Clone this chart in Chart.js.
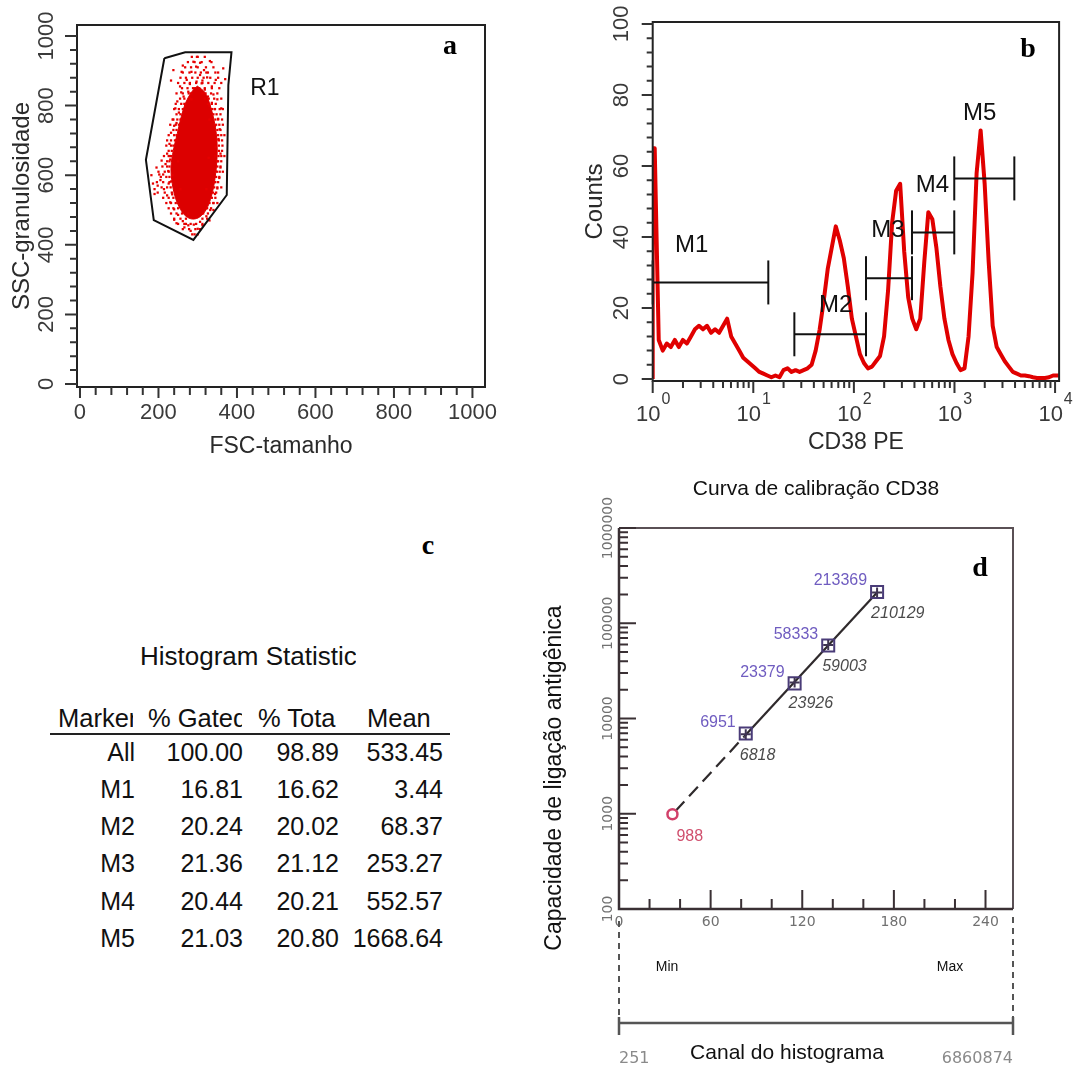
<!DOCTYPE html>
<html>
<head>
<meta charset="UTF-8">
<script src="https://cdn.jsdelivr.net/npm/chart.js@4.4.1/dist/chart.umd.min.js"></script>
<style>
  body { margin: 0; background: #fff; }
  #page { position: relative; width: 1075px; height: 1073px; overflow: hidden; background: #fff; }
  canvas { position: absolute; }
  .tag { position: absolute; width: 40px; text-align: center; font: bold 28px "Liberation Serif", serif; line-height: 32px; color: #000; }
  .cell { position: absolute; white-space: nowrap; overflow: hidden; font: 25px "Liberation Sans", Arial, sans-serif; line-height: 30px; height: 30px; color: #111; }
</style>
</head>
<body>
<div id="page">
  <canvas id="dotplot" width="540" height="470" style="left:0;top:0"></canvas>
  <canvas id="histo" width="535" height="470" style="left:540px;top:0"></canvas>
  <canvas id="calib" width="535" height="603" style="left:540px;top:470px"></canvas>
  <div id="stats"></div>
  <div class="tag" style="left:430px;top:29px">a</div>
  <div class="tag" style="left:1008px;top:32px">b</div>
  <div class="tag" style="left:408px;top:529px">c</div>
  <div class="tag" style="left:960px;top:551px">d</div>
</div>

<script>
// ---------- a: FSC x SSC dot plot ----------
const gateR1 = [[215,936],[268,953],[386,953],[378,859],[374,543],[289,414],[188,471],[168,644],[215,936]];
const denseCore = [[299,856],[318,838],[332,800],[343,750],[349,700],[349,645],[344,590],[335,540],[322,502],[305,480],[287,474],[270,482],[256,502],[244,532],[235,576],[232,624],[238,672],[248,720],[258,768],[270,810],[285,840],[299,856]];
const sparseEvents = [
  [289,926],[306,923],[296,912],[331,928],[316,902],[284,897],[259,897],[238,902],[306,888],[324,881],
  [346,874],[272,874],[297,869],[310,864],[365,907],[370,876],[336,855],[255,855],[293,850],[318,846],
  [276,840],[264,826],[340,832],[350,818],[248,812],[326,826],[284,818],[360,792],[243,792],[352,762],
  [238,760],[356,732],[232,722],[348,702],[228,690],[358,662],[222,662],[350,640],[218,632],[345,612],
  [212,602],[205,586],[198,570],[190,560],[182,600],[195,622],[208,642],[225,612],[230,645],[355,592],
  [350,562],[344,546],[340,520],[332,500],[322,482],[306,466],[290,458],[276,456],[262,468],[250,486],
  [240,502],[230,522],[222,542],[214,560],[246,462],[282,440],[300,446],[266,450],[312,456],[292,430],
  [232,582],[202,602],[186,576],[190,546],[240,472],[330,470],[342,580],[346,682],[353,704],[240,742],
  [246,700],[358,622],[236,600],[226,576],[344,790],[336,808],[252,780],[258,838],[330,760],[246,750],
  [344,742],[345,655],[229,655],[222,700],[235,545],[340,500],[270,460],[312,872],[280,862],[322,895],
  [298,940],[262,915],[352,895],[232,872],[268,800],[330,800],[250,640],[328,650],[256,560],[322,560]
];
const fringeEvents = [
  [285,940],[300,940],[318,940],
  [275,925],[292,925],[310,925],[335,925],
  [268,910],[283,910],[300,910],[321,910],[340,910],
  [262,895],[279,895],[294,895],[308,895],[326,895],[345,895],
  [256,880],[270,880],[286,880],[300,880],[315,880],[332,880],[352,880],
  [250,865],[266,865],[280,865],[296,865],[312,865],[327,865],[343,865],[360,865],
  [260,850],[274,850],[288,850],[304,850],[318,850],[336,850],[355,850],
  [246,835],[262,835],[277,835],[283,835],[312,835],[320,835],[334,835],[350,835],
  [255,820],[266,820],[280,820],[318,820],[328,820],[342,820],[360,820],
  [244,805],[258,805],[266,805],[326,805],[336,805],[346,805],
  [240,790],[252,790],[262,790],[336,790],[343,790],[356,790],[364,790],
  [246,775],[256,775],[340,775],[348,775],[358,775],
  [236,760],[248,760],[256,760],[345,760],[352,760],[362,760],
  [230,745],[244,745],[252,745],[347,745],[355,745],[364,745],
  [238,730],[246,730],[350,730],[358,730],
  [226,715],[240,715],[246,715],[352,715],[360,715],[368,715],
  [232,700],[242,700],[354,700],[362,700],
  [220,685],[232,685],[238,685],[354,685],[363,685],
  [226,670],[234,670],[354,670],[362,670],
  [214,655],[226,655],[232,655],[353,655],[360,655],[368,655],
  [222,640],[228,640],[352,640],[360,640],
  [210,625],[222,625],[228,625],[350,625],[358,625],
  [200,610],[216,610],[226,610],[349,610],[356,610],[364,610],
  [206,595],[220,595],[228,595],[347,595],[355,595],
  [196,580],[212,580],[228,580],[345,580],[352,580],
  [208,565],[222,565],[231,565],[342,565],[350,565],[360,565],
  [198,550],[216,550],[234,550],[339,550],[347,550],
  [212,535],[226,535],[238,535],[336,535],[345,535],
  [220,520],[232,520],[244,520],[330,520],[340,520],[350,520],
  [226,505],[238,505],[250,505],[324,505],[334,505],
  [232,490],[246,490],[260,490],[276,490],[314,490],[326,490],
  [240,475],[256,475],[270,475],[312,475],[324,475],
  [250,460],[266,460],[282,460],[296,460],[312,460],
  [262,445],[278,445],[294,445],[306,445],
  [286,430],[300,430]
];
const fscMajor = [0, 200, 400, 600, 800, 1000];
const sscMajor = [0, 200, 400, 600, 800, 1000];
const r1LabelAt = [471, 848];

// ---------- b: CD38 PE histogram (bins of 0.04 decade from 10^0) ----------
const binDecades = 0.04;
const histCounts = [
  65, 11, 8, 10, 9, 11, 9, 11, 10, 12,
  14, 15, 14, 15, 13, 14, 13, 15, 17, 12,
  10, 8, 6, 5, 4, 3, 2, 1.5, 1, 0.5,
  1, 0.5, 2.5, 3, 2, 2.5, 2, 2.5, 3, 4,
  8, 14, 22, 31, 37, 43, 39, 34, 26, 17,
  12, 7, 4.5, 3, 3.5, 5, 6.5, 12, 25, 44,
  53, 55, 36, 23, 17, 14, 17, 33, 47, 45,
  37, 26, 17, 11, 7, 4.5, 2.5, 3, 12, 30,
  58, 70, 55, 33, 15, 9, 7, 5, 3.5, 2,
  1.5, 1, 1, 0.8, 0.5, 0.3, 0.3, 0.3, 0.5, 1
];
const markerNames = ['M1', 'M2', 'M3', 'M4', 'M5'];
const markerFrom  = [1, 25.6, 132, 378, 995];
const markerTo    = [14.1, 132, 378, 995, 3935];
const markerLevel = [27.2, 12.6, 28.4, 41.3, 56.5];
const markerLabelAt = [[2.44, 37.7], [66, 20.8], [218, 41.9], [603, 54.6], [1778, 74.9]];
const countMajor = [0, 20, 40, 60, 80, 100];
const peDecades = [0, 1, 2, 3, 4];

// ---------- c: histogram statistics ----------
const statTitle = 'Histogram Statistics';
const statHeaders = ['Marker', '% Gated', '% Total', 'Mean'];
const statMarkers = ['All', 'M1', 'M2', 'M3', 'M4', 'M5'];
const statGated = ['100.00', '16.81', '20.24', '21.36', '20.44', '21.03'];
const statTotal = ['98.89', '16.62', '20.02', '21.12', '20.21', '20.80'];
const statMean = ['533.45', '3.44', '68.37', '253.27', '552.57', '1668.64'];

// ---------- d: calibration curve ----------
const beadChannel = [83, 115, 137, 169];
const beadNominal = [6951, 23379, 58333, 213369];
const beadMeasured = [6818, 23926, 59003, 210129];
const blankChannel = [35];
const blankValue = [988];
const fitChannel = [37, 82, 169];
const fitValue = [1070, 6480, 210000];
const channelMajor = [0, 60, 120, 180, 240];
const mesfDecades = [100, 1000, 10000, 100000, 1000000];
const rangeMin = '251';
const rangeMax = '6860874';

Chart.defaults.font.family = '"Liberation Sans", Arial, sans-serif';
Chart.defaults.animation = false;

const pts = arr => arr.map(p => ({x: p[0], y: p[1]}));

function stepTicks(from, to, step) {
  const t = [];
  for (let v = from; v <= to; v += step) t.push({value: v});
  return t;
}
function logTicks(d0, d1) {
  const t = [];
  for (let d = d0; d < d1; d++) for (let k = 1; k <= 9; k++) t.push({value: k * Math.pow(10, d)});
  t.push({value: Math.pow(10, d1)});
  return t;
}
function isMajor(list, v) { return list.some(m => Math.abs(m - v) < 1e-9 * Math.max(1, m)); }

function drawTicks(chart, id, majors, lenMajor, lenMinor, inward, color, width) {
  const sc = chart.scales[id], a = chart.chartArea, ctx = chart.ctx;
  ctx.save();
  ctx.strokeStyle = color; ctx.lineWidth = width;
  ctx.beginPath();
  sc.ticks.forEach(t => {
    const len = isMajor(majors, t.value) ? lenMajor : lenMinor;
    const p = sc.getPixelForValue(t.value);
    if (sc.isHorizontal()) {
      ctx.moveTo(p, a.bottom); ctx.lineTo(p, inward ? a.bottom - len : a.bottom + len);
    } else {
      ctx.moveTo(a.left, p); ctx.lineTo(inward ? a.left + len : a.left - len, p);
    }
  });
  ctx.stroke();
  ctx.restore();
}
function drawRotLabels(chart, id, x, values, font, color) {
  const sc = chart.scales[id], ctx = chart.ctx;
  ctx.save();
  ctx.font = font; ctx.fillStyle = color; ctx.textAlign = 'center'; ctx.textBaseline = 'middle';
  values.forEach(v => {
    ctx.save();
    ctx.translate(x, sc.getPixelForValue(v));
    ctx.rotate(-Math.PI / 2);
    ctx.fillText(String(v), 0, 0);
    ctx.restore();
  });
  ctx.restore();
}
function drawFrame(chart, color, width) {
  const a = chart.chartArea, ctx = chart.ctx;
  ctx.save();
  ctx.strokeStyle = color; ctx.lineWidth = width;
  ctx.strokeRect(a.left, a.top, a.right - a.left, a.bottom - a.top);
  ctx.restore();
}
function text(ctx, s, x, y, font, color, align, rot) {
  ctx.save();
  ctx.font = font; ctx.fillStyle = color; ctx.textAlign = align || 'center'; ctx.textBaseline = 'middle';
  ctx.translate(x, y);
  if (rot) ctx.rotate(rot);
  ctx.fillText(s, 0, 0);
  ctx.restore();
}

// ================= a =================
new Chart(document.getElementById('dotplot'), {
  type: 'scatter',
  data: {
    datasets: [
      { label: 'R1', data: pts(gateR1), showLine: true, borderColor: '#111', borderWidth: 2, pointRadius: 0, fill: false },
      { label: 'events', data: pts(sparseEvents.concat(fringeEvents)), pointStyle: 'rect', pointRadius: 1.6,
        backgroundColor: '#e60000', borderWidth: 0 },
      { label: 'core', data: pts(denseCore), showLine: true, fill: 'shape', tension: 0.35,
        backgroundColor: '#dc0000', borderColor: '#dc0000', borderWidth: 1, pointRadius: 0 }
    ]
  },
  options: {
    responsive: false, events: [],
    layout: { autoPadding: false, padding: { top: 25, right: 55, left: 0, bottom: 0 } },
    plugins: { legend: { display: false }, tooltip: { enabled: false } },
    scales: {
      x: {
        type: 'linear', min: -7.6, max: 1032, bounds: 'data',
        afterBuildTicks: s => { s.ticks = stepTicks(0, 1000, 40); },
        afterFit: s => { s.height = 83; },
        grid: { display: false, drawTicks: false }, border: { display: false },
        ticks: { autoSkip: false, maxRotation: 0, padding: 13, color: '#3a3a3a', font: { size: 22 },
                 callback: v => fscMajor.includes(v) ? String(v) : '' },
        title: { display: true, text: 'FSC-tamanho', color: '#2a2a2a', font: { size: 23 }, padding: { top: 0, bottom: 9.7 } }
      },
      y: {
        type: 'linear', min: -8.6, max: 1031.6, bounds: 'data',
        afterBuildTicks: s => { s.ticks = stepTicks(0, 1000, 40); },
        afterFit: s => { s.width = 77; },
        grid: { display: false, drawTicks: false }, border: { display: false },
        ticks: { display: false },
        title: { display: true, text: 'SSC-granulosidade', color: '#2a2a2a', font: { size: 24 }, padding: { top: 7.6, bottom: 0 } }
      }
    }
  },
  plugins: [{
    id: 'dotDeco',
    afterDraw(chart) {
      const ctx = chart.ctx;
      drawFrame(chart, '#222', 2);
      drawTicks(chart, 'x', fscMajor, 11, 8, false, '#333', 2);
      drawTicks(chart, 'y', sscMajor, 12, 7, false, '#333', 2);
      drawRotLabels(chart, 'y', 47, sscMajor, '22px "Liberation Sans"', '#3a3a3a');
      text(ctx, 'R1', chart.scales.x.getPixelForValue(r1LabelAt[0]), chart.scales.y.getPixelForValue(r1LabelAt[1]),
           '23px "Liberation Sans"', '#111');
    }
  }]
});

// ================= b =================
// bin centres on the log axis; the first channel rises straight from the axis
const histData = [{x: 1, y: 0}, {x: 1, y: histCounts[0]}]
  .concat(histCounts.map((c, i) => ({x: Math.pow(10, (i + 0.5) * binDecades), y: c})))
  .concat([{x: 11000, y: histCounts[histCounts.length - 1]}]);

const markerSets = markerNames.map((n, i) => ({
  label: n,
  data: [{x: markerFrom[i], y: markerLevel[i]}, {x: markerTo[i], y: markerLevel[i]}],
  showLine: true, borderColor: '#111', borderWidth: 2,
  pointStyle: 'line', rotation: 90, pointRadius: 22, pointBorderColor: '#111', pointBorderWidth: 2,
  clip: false
}));

new Chart(document.getElementById('histo'), {
  type: 'scatter',
  data: {
    datasets: markerSets.concat([{
      label: 'CD38 PE', data: histData, showLine: true,
      borderColor: '#e00000', borderWidth: 4, pointRadius: 0, borderJoinStyle: 'round'
    }])
  },
  options: {
    responsive: false, events: [],
    layout: { autoPadding: false, padding: { top: 22, right: 15.9, left: 0, bottom: 0 } },
    plugins: { legend: { display: false }, tooltip: { enabled: false } },
    scales: {
      x: {
        type: 'logarithmic', min: 1, max: 10965, bounds: 'data',
        afterBuildTicks: s => { s.ticks = logTicks(0, 4); },
        afterFit: s => { s.height = 89; },
        grid: { display: false, drawTicks: false }, border: { display: false },
        ticks: { display: false },
        title: { display: true, text: 'CD38 PE', color: '#2a2a2a', font: { size: 23 }, padding: { top: 0, bottom: 13.2 } }
      },
      y: {
        type: 'linear', min: -0.56, max: 100.56, bounds: 'data',
        afterBuildTicks: s => { s.ticks = stepTicks(0, 100, 4); },
        afterFit: s => { s.width = 112.7; },
        grid: { display: false, drawTicks: false }, border: { display: false },
        ticks: { display: false },
        title: { display: true, text: 'Counts', color: '#2a2a2a', font: { size: 24 }, padding: { top: 40.6, bottom: 0 } }
      }
    }
  },
  plugins: [{
    id: 'histDeco',
    afterDraw(chart) {
      const ctx = chart.ctx, a = chart.chartArea, xs = chart.scales.x, ys = chart.scales.y;
      drawFrame(chart, '#222', 2);
      drawTicks(chart, 'x', peDecades.map(d => Math.pow(10, d)), 12, 7, false, '#333', 2);
      drawTicks(chart, 'y', countMajor, 11, 6, false, '#333', 2);
      drawRotLabels(chart, 'y', 82, countMajor, '22px "Liberation Sans"', '#3a3a3a');
      peDecades.forEach(d => {
        const px = xs.getPixelForValue(Math.pow(10, d));
        ctx.save();
        ctx.font = '22px "Liberation Sans"';
        const w1 = ctx.measureText('10').width;
        ctx.font = '16px "Liberation Sans"';
        const w2 = ctx.measureText(String(d)).width;
        ctx.restore();
        const x0 = px - (w1 + w2) / 2;
        text(ctx, '10', x0, a.bottom + 34, '22px "Liberation Sans"', '#3a3a3a', 'left');
        text(ctx, String(d), x0 + w1 + 1, a.bottom + 19, '16px "Liberation Sans"', '#3a3a3a', 'left');
      });
      markerNames.forEach((n, i) => {
        text(ctx, n, xs.getPixelForValue(markerLabelAt[i][0]), ys.getPixelForValue(markerLabelAt[i][1]),
             '24px "Liberation Sans"', '#111');
      });
    }
  }]
});

// ================= c =================
const stats = document.getElementById('stats');
const colLeft = [58, 148, 258, 367];
const colRight = [135, 243, 339, 443];
const headClip = [133, 242, 336, 443];
function cell(s, left, width, yc, align, size) {
  const d = document.createElement('div');
  d.className = 'cell';
  d.textContent = s;
  d.style.left = left + 'px';
  d.style.width = width + 'px';
  d.style.top = (yc - 14.3) + 'px';
  d.style.textAlign = align;
  if (size) d.style.fontSize = size + 'px';
  stats.appendChild(d);
}
cell(statTitle, 140, 216, 655, 'left', 26);
statHeaders.forEach((h, j) => cell(h, colLeft[j], headClip[j] - colLeft[j], 717, 'left', 25.5));
const rule = document.createElement('div');
rule.style.cssText = 'position:absolute;left:50px;top:733px;width:400px;height:2px;background:#222';
stats.appendChild(rule);
statMarkers.forEach((m, i) => {
  const yc = 751 + i * 37.2;
  [m, statGated[i], statTotal[i], statMean[i]].forEach((v, j) => {
    cell(v, colLeft[j] - 60, colRight[j] - colLeft[j] + 60, yc, 'right');
  });
});

// ================= d =================
new Chart(document.getElementById('calib'), {
  type: 'scatter',
  data: {
    datasets: [
      { label: 'medido', data: beadChannel.map((c, i) => ({x: c, y: beadMeasured[i]})),
        pointStyle: 'cross', pointRadius: 5, pointBorderColor: '#3f3552', pointBorderWidth: 2 },
      { label: 'nominal', data: beadChannel.map((c, i) => ({x: c, y: beadNominal[i]})),
        pointStyle: 'rect', pointRadius: 8.5, pointBorderColor: '#4a3c78', pointBackgroundColor: 'rgba(0,0,0,0)', pointBorderWidth: 2 },
      { label: 'branco', data: blankChannel.map((c, i) => ({x: c, y: blankValue[i]})),
        pointStyle: 'circle', pointRadius: 5, pointBorderColor: '#d2406a', pointBackgroundColor: 'rgba(0,0,0,0)', pointBorderWidth: 2.5 },
      { label: 'ajuste', data: [{x: fitChannel[1], y: fitValue[1]}, {x: fitChannel[2], y: fitValue[2]}],
        showLine: true, borderColor: '#2f2a2c', borderWidth: 2.2, pointRadius: 0 },
      { label: 'extrapolado', data: [{x: fitChannel[0], y: fitValue[0]}, {x: fitChannel[1], y: fitValue[1]}],
        showLine: true, borderColor: '#2f2a2c', borderWidth: 2.2, borderDash: [13, 7], pointRadius: 0 }
    ]
  },
  options: {
    responsive: false, events: [],
    layout: { autoPadding: false, padding: { top: 0, right: 62, left: 0, bottom: 0 } },
    plugins: {
      legend: { display: false }, tooltip: { enabled: false },
      title: { display: true, fullSize: false, text: 'Curva de calibração CD38', color: '#111',
               font: { size: 21, weight: 'normal' }, padding: { top: 6.4, bottom: 26.4 } }
    },
    scales: {
      x: {
        type: 'linear', min: 0, max: 258, bounds: 'data',
        afterBuildTicks: s => { s.ticks = stepTicks(0, 240, 20); },
        afterFit: s => { s.height = 164; },
        grid: { display: false, drawTicks: false }, border: { display: false },
        ticks: { autoSkip: false, maxRotation: 0, padding: 5, color: '#707070',
                 font: { family: '"DejaVu Sans"', size: 14 },
                 callback: v => channelMajor.includes(v) ? String(v) : '' }
      },
      y: {
        type: 'logarithmic', min: 100, max: 1000000, bounds: 'data',
        afterBuildTicks: s => { s.ticks = logTicks(2, 6); },
        afterFit: s => { s.width = 79; },
        grid: { display: false, drawTicks: false }, border: { display: false },
        ticks: { display: false }
      }
    }
  },
  plugins: [{
    id: 'calibDeco',
    afterDraw(chart) {
      const ctx = chart.ctx, a = chart.chartArea, xs = chart.scales.x, ys = chart.scales.y;
      ctx.save();
      ctx.lineWidth = 2; ctx.strokeStyle = '#5a5055';
      ctx.beginPath(); ctx.moveTo(a.left, a.top); ctx.lineTo(a.right, a.top); ctx.lineTo(a.right, a.bottom); ctx.stroke();
      ctx.lineWidth = 2.5; ctx.strokeStyle = '#3a3034';
      ctx.beginPath(); ctx.moveTo(a.left, a.top); ctx.lineTo(a.left, a.bottom); ctx.lineTo(a.right, a.bottom); ctx.stroke();
      ctx.restore();
      drawTicks(chart, 'x', channelMajor, 19, 10, true, '#3a3034', 2);
      drawTicks(chart, 'y', mesfDecades, 17, 9, true, '#3a3034', 2);
      drawRotLabels(chart, 'y', 68, mesfDecades, '14px "DejaVu Sans"', '#707070');

      beadChannel.forEach((c, i) => {
        const px = xs.getPixelForValue(c);
        text(ctx, String(beadNominal[i]), px - 10, ys.getPixelForValue(beadNominal[i]) - 11,
             '16px "Liberation Sans"', '#6f5cc0', 'right');
        text(ctx, String(beadMeasured[i]), px - 6, ys.getPixelForValue(beadMeasured[i]) + 21,
             'italic 16px "Liberation Sans"', '#4a4a4a', 'left');
      });
      blankChannel.forEach((c, i) => {
        text(ctx, String(blankValue[i]), xs.getPixelForValue(c) + 4, ys.getPixelForValue(blankValue[i]) + 22,
             '16px "Liberation Sans"', '#d0506e', 'left');
      });

      // histogram channel range below the axis
      ctx.save();
      ctx.strokeStyle = '#555'; ctx.lineWidth = 2;
      ctx.setLineDash([6, 5]);
      ctx.beginPath();
      ctx.moveTo(a.left, a.bottom + 12); ctx.lineTo(a.left, a.bottom + 110);
      ctx.moveTo(a.right, a.bottom + 8); ctx.lineTo(a.right, a.bottom + 110);
      ctx.stroke();
      ctx.setLineDash([]);
      ctx.lineWidth = 2.5;
      ctx.beginPath();
      ctx.moveTo(a.left, a.bottom + 114); ctx.lineTo(a.right, a.bottom + 114);
      ctx.moveTo(a.left, a.bottom + 108); ctx.lineTo(a.left, a.bottom + 126);
      ctx.moveTo(a.right, a.bottom + 108); ctx.lineTo(a.right, a.bottom + 126);
      ctx.stroke();
      ctx.restore();
      text(ctx, 'Min', a.left + 48, a.bottom + 58, '14px "Liberation Sans"', '#111');
      text(ctx, 'Max', a.right - 63, a.bottom + 58, '14px "Liberation Sans"', '#111');
      text(ctx, rangeMin, a.left, a.bottom + 150, '16px "DejaVu Sans"', '#8a8a8a', 'left');
      text(ctx, rangeMax, a.right, a.bottom + 150, '16px "DejaVu Sans"', '#8a8a8a', 'right');
      text(ctx, 'Canal do histograma', a.left + 168, a.bottom + 144, '21px "Liberation Sans"', '#111');
      text(ctx, 'Capacidade de ligação antigênica', a.left - 64, a.bottom - 131, '23px "Liberation Sans"', '#111', 'center', -Math.PI / 2);
    }
  }]
});
</script>
</body>
</html>
